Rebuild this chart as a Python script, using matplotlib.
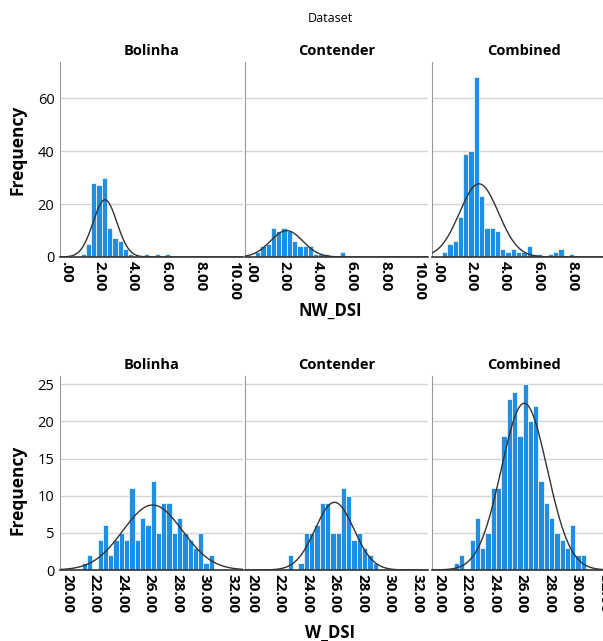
import numpy as np
import matplotlib
matplotlib.use("Agg")
import matplotlib.pyplot as plt

plt.rcParams["font.family"] = ["Open Sans", "DejaVu Sans"]

DATASETS = ["Bolinha", "Contender", "Combined"]

# NW_DSI histograms: counts per bin, bins of equal width from NW_BIN_START
NW_BIN_START = -0.08
NW_BIN_WIDTH = 0.315
NW_BOLINHA = [0, 0, 0, 1, 5, 28, 27, 30, 11, 7, 6, 3, 1, 0, 0, 1, 0, 1, 0, 1]
NW_CONTENDER = [0, 2, 4, 5, 11, 10, 11, 10, 6, 4, 4, 4, 1, 1, 1, 0, 0, 2]
NW_COMBINED = [0, 2, 5, 6, 15, 39, 40, 68, 23, 11, 11, 10, 3, 2, 3, 2, 2, 4,
               1, 1, 0, 1, 2, 3, 0, 1]
NW_FIT = [(2.32, 0.71), (2.12, 0.96), (2.44, 1.16)]  # normal curve mean, sd
NW_TICKS = [0, 2, 4, 6, 8, 10]
NW_TICKLABELS = [".00", "2.00", "4.00", "6.00", "8.00", "10.00"]
NW_YTICKS = [0, 20, 40, 60]

# W_DSI histograms
W_BIN_START = 21.07
W_BIN_WIDTH = 0.385
W_BOLINHA = [1, 2, 0, 4, 6, 2, 4, 5, 4, 11, 4, 7, 6, 12, 5, 9, 9, 5, 7, 5,
             4, 3, 5, 1, 2]
W_CONTENDER = [0, 0, 0, 0, 2, 0, 1, 5, 5, 6, 9, 9, 5, 5, 11, 10, 4, 5, 3, 2, 1]
W_COMBINED = [1, 2, 0, 4, 7, 3, 5, 11, 11, 18, 23, 24, 18, 25, 20, 22, 12, 9,
              7, 5, 4, 3, 6, 2, 2]
W_FIT = [(26.23, 2.16), (26.0, 1.40), (26.2, 1.67)]
W_TICKS = [20, 22, 24, 26, 28, 30, 32]
W_TICKLABELS = ["20.00", "22.00", "24.00", "26.00", "28.00", "30.00", "32.00"]
W_YTICKS = [0, 5, 10, 15, 20, 25]

BAR_COLOR = "#1F8FE5"
GRID_COLOR = "#D4D4D4"

W_PX, H_PX = 603, 641
fig = plt.figure(figsize=(W_PX / 100, H_PX / 100), dpi=100)


def px_axes(left, top, width, height):
    return fig.add_axes([left / W_PX, 1 - (top + height) / H_PX,
                         width / W_PX, height / H_PX])


def draw_row(top, height, all_counts, fits, start, width, xlim, ylim,
             ticks, ticklabels, yticks):
    lefts = [60, 245, 432]
    for i, (counts, (mu, sd)) in enumerate(zip(all_counts, fits)):
        ax = px_axes(lefts[i], top, 183, height)
        counts = np.array(counts)
        edges = start + width * np.arange(len(counts))
        ax.bar(edges, counts, width=width, align="edge", color=BAR_COLOR,
               edgecolor="white", linewidth=0.5, zorder=2)

        # normal curve scaled to the histogram
        xs = np.linspace(xlim[0], xlim[1], 400)
        n = counts.sum()
        ys = n * width * np.exp(-0.5 * ((xs - mu) / sd) ** 2) / (sd * np.sqrt(2 * np.pi))
        ax.plot(xs, ys, color="#333333", lw=1.0, zorder=3)

        ax.set_xlim(*xlim)
        ax.set_ylim(*ylim)
        ax.set_yticks(yticks)
        ax.grid(True, axis="y", color=GRID_COLOR, lw=1.0, zorder=0)
        ax.set_axisbelow(True)
        for s in ("top", "right"):
            ax.spines[s].set_visible(False)
        ax.spines["left"].set_color("#9A9A9A")
        ax.spines["bottom"].set_color("#333333")
        ax.spines["bottom"].set_linewidth(1.2)
        ax.tick_params(length=0)
        ax.set_xticks(ticks)
        ax.set_xticklabels(ticklabels, rotation=270, fontsize=11,
                           fontweight="bold")
        ax.tick_params(axis="x", pad=3)
        if i == 0:
            ax.tick_params(axis="y", labelsize=10.5, pad=4)
        else:
            ax.set_yticklabels([])
        ax.set_title(DATASETS[i], fontsize=10.5, fontweight="bold", pad=5)


draw_row(62, 195, [NW_BOLINHA, NW_CONTENDER, NW_COMBINED], NW_FIT,
         NW_BIN_START, NW_BIN_WIDTH, (-0.357, 10.54), (0, 73.6),
         NW_TICKS, NW_TICKLABELS, NW_YTICKS)
draw_row(376, 194, [W_BOLINHA, W_CONTENDER, W_COMBINED], W_FIT,
         W_BIN_START, W_BIN_WIDTH, (19.49, 32.8), (0, 26.1),
         W_TICKS, W_TICKLABELS, W_YTICKS)

fig.text(330 / W_PX, 1 - 18 / H_PX, "Dataset", ha="center", va="center",
         fontsize=9)
fig.text(330 / W_PX, 1 - 311 / H_PX, "NW_DSI", ha="center", va="center",
         fontsize=12, fontweight="bold")
fig.text(330 / W_PX, 1 - 633 / H_PX, "W_DSI", ha="center", va="center",
         fontsize=12, fontweight="bold")
fig.text(18 / W_PX, 1 - 150 / H_PX, "Frequency", ha="center", va="center",
         rotation=90, fontsize=12.5, fontweight="bold")
fig.text(18 / W_PX, 1 - 490 / H_PX, "Frequency", ha="center", va="center",
         rotation=90, fontsize=12.5, fontweight="bold")

fig.savefig("out.png", dpi=100)
